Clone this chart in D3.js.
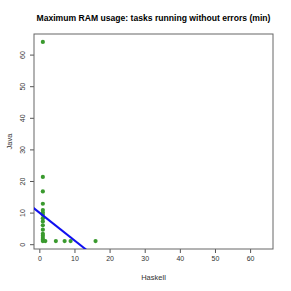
<!DOCTYPE html>
<html>
<head>
<meta charset="utf-8">
<script src="https://cdn.jsdelivr.net/npm/d3@7"></script>
<style>
  body { margin: 0; background: #fff; }
  svg { font-family: "Liberation Sans", Arial, sans-serif; }
</style>
</head>
<body>
<svg id="chart" width="291" height="291"></svg>
<script>
// tasks: max RAM usage (min), Haskell vs Java
const haskell = [1, 1, 1, 1, 1, 1, 1, 1, 1, 1, 1, 1, 1, 1, 1, 1, 1.7, 4.7, 7.2, 8.9, 16]
const java    = [64, 21.3, 16.7, 12.8, 10.8, 10, 9.3, 8.2, 7.2, 6, 4.6, 3.3, 2.7, 2, 1.4, 1, 1, 1, 1, 1, 1]
const xTicks = [0, 10, 20, 30, 40, 50, 60]
const yTicks = [0, 10, 20, 30, 40, 50, 60]
// fitted line: java = a + b * haskell
const fitIntercept = 10
const fitSlope = -0.88

const margin = { top: 34, right: 18, bottom: 42, left: 34 }
const width = 291, height = 291
const innerW = width - margin.left - margin.right
const innerH = height - margin.top - margin.bottom

const svg = d3.select("#chart")

const xScale = d3.scaleLinear().domain([-1.52, 66.52]).range([margin.left, width - margin.right])
const yScale = d3.scaleLinear().domain([-1.52, 66.52]).range([height - margin.bottom, margin.top])

svg.append("text")
  .attr("x", (margin.left + width - margin.right) / 2)
  .attr("y", 21)
  .attr("text-anchor", "middle")
  .attr("font-size", 8.6)
  .attr("font-weight", "bold")
  .text("Maximum RAM usage: tasks running without errors (min)")

// clip for the fit line
svg.append("clipPath").attr("id", "clip")
  .append("rect")
  .attr("x", margin.left).attr("y", margin.top)
  .attr("width", innerW).attr("height", innerH)

const xAxis = svg.append("g")
  .attr("transform", `translate(0, ${height - margin.bottom})`)
  .call(d3.axisBottom(xScale).tickValues(xTicks).tickSize(4).tickPadding(3))
xAxis.select(".domain").remove()

const yAxis = svg.append("g")
  .attr("transform", `translate(${margin.left}, 0)`)
  .call(d3.axisLeft(yScale).tickValues(yTicks).tickSize(4).tickPadding(3))
yAxis.select(".domain").remove()
yAxis.selectAll(".tick text")
  .attr("text-anchor", "middle")
  .attr("x", 0).attr("dy", 0)
  .attr("transform", "translate(-11, 0) rotate(-90)")
  .attr("dominant-baseline", "middle")

svg.selectAll(".tick line").attr("stroke", "#555")
svg.selectAll(".tick text").attr("font-size", 7).attr("fill", "#333")
  .attr("font-family", "Liberation Sans, Arial, sans-serif")

svg.append("rect")
  .attr("x", margin.left).attr("y", margin.top)
  .attr("width", innerW).attr("height", innerH)
  .attr("fill", "none").attr("stroke", "#666").attr("stroke-width", 1)

// axis titles
svg.append("text")
  .attr("x", (margin.left + width - margin.right) / 2)
  .attr("y", 280)
  .attr("text-anchor", "middle")
  .attr("font-size", 7.5).attr("fill", "#333")
  .text("Haskell")

svg.append("text")
  .attr("transform", `translate(10, ${(margin.top + height - margin.bottom) / 2}) rotate(-90)`)
  .attr("text-anchor", "middle")
  .attr("dominant-baseline", "middle")
  .attr("font-size", 7.5).attr("fill", "#333")
  .text("Java")

// points
const pts = haskell.map((h, i) => ({ h: h, j: java[i] }))
svg.append("g").selectAll("circle")
  .data(pts).enter().append("circle")
  .attr("cx", d => xScale(d.h))
  .attr("cy", d => yScale(d.j))
  .attr("r", 2.1)
  .attr("fill", "#3a9a2e")

// fit line
const x0 = -5, x1 = 70
svg.append("line")
  .attr("clip-path", "url(#clip)")
  .attr("x1", xScale(x0)).attr("y1", yScale(fitIntercept + fitSlope * x0))
  .attr("x2", xScale(x1)).attr("y2", yScale(fitIntercept + fitSlope * x1))
  .attr("stroke", "#1010f0").attr("stroke-width", 2)
</script>
</body>
</html>
